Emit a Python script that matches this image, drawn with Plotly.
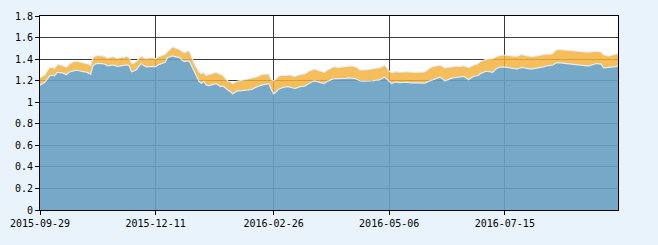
import pandas as pd
import plotly.graph_objects as go

# Trading-day calendar (categories)
holidays = pd.to_datetime([
    "2015-10-01", "2015-10-02", "2015-10-05", "2015-10-06", "2015-10-07",
    "2016-01-01", "2016-02-08", "2016-02-09", "2016-02-10", "2016-02-11", "2016-02-12",
    "2016-04-04", "2016-05-02", "2016-06-09", "2016-06-10", "2016-09-15", "2016-09-16",
])
all_days = pd.bdate_range("2015-09-29", "2016-10-31")
dates = [d.strftime("%Y-%m-%d") for d in all_days if d not in holidays][:241]

tick_labels = ["2015-09-29", "2015-12-11", "2016-02-26", "2016-05-06", "2016-07-15"]

# Cumulative NAV (orange, upper)
accum_nav = [
    1.227, 1.24, 1.255, 1.29, 1.32, 1.325, 1.315, 1.345, 1.35, 1.345,
    1.335, 1.325, 1.352, 1.365, 1.377, 1.38, 1.375, 1.37, 1.365, 1.36,
    1.355, 1.34, 1.415, 1.43, 1.435, 1.432, 1.428, 1.425, 1.41, 1.415,
    1.422, 1.418, 1.406, 1.413, 1.42, 1.418, 1.426, 1.416, 1.36, 1.365,
    1.377, 1.405, 1.429, 1.415, 1.405, 1.41, 1.414, 1.41, 1.405, 1.42,
    1.43, 1.435, 1.445, 1.47, 1.495, 1.513, 1.506, 1.5, 1.489, 1.47,
    1.46, 1.474, 1.475, 1.42, 1.36, 1.322, 1.28, 1.265, 1.275, 1.25,
    1.255, 1.262, 1.27, 1.278, 1.27, 1.262, 1.248, 1.22, 1.197, 1.19,
    1.173, 1.185, 1.197, 1.2, 1.205, 1.209, 1.212, 1.215, 1.22, 1.228,
    1.235, 1.245, 1.257, 1.26, 1.263, 1.262, 1.21, 1.2, 1.215, 1.24,
    1.248, 1.246, 1.25, 1.253, 1.252, 1.243, 1.24, 1.25, 1.258, 1.26,
    1.265, 1.28, 1.293, 1.3, 1.308, 1.3, 1.293, 1.285, 1.278, 1.295,
    1.308, 1.318, 1.329, 1.326, 1.322, 1.326, 1.329, 1.332, 1.335, 1.338,
    1.334, 1.329, 1.315, 1.3, 1.299, 1.299, 1.303, 1.307, 1.31, 1.313,
    1.316, 1.32, 1.33, 1.344, 1.32, 1.288, 1.278, 1.282, 1.284, 1.28,
    1.278, 1.281, 1.284, 1.28, 1.278, 1.279, 1.278, 1.277, 1.278, 1.28,
    1.285, 1.305, 1.32, 1.33, 1.338, 1.34, 1.344, 1.335, 1.318, 1.322,
    1.329, 1.334, 1.338, 1.335, 1.332, 1.335, 1.338, 1.33, 1.323, 1.335,
    1.344, 1.35, 1.359, 1.38, 1.39, 1.396, 1.399, 1.402, 1.405, 1.418,
    1.43, 1.435, 1.438, 1.436, 1.435, 1.432, 1.429, 1.428, 1.426, 1.435,
    1.444, 1.437, 1.43, 1.426, 1.423, 1.426, 1.429, 1.432, 1.436, 1.441,
    1.448, 1.449, 1.446, 1.455, 1.48, 1.489, 1.489, 1.486, 1.483, 1.482,
    1.48, 1.477, 1.474, 1.471, 1.468, 1.467, 1.465, 1.465, 1.465, 1.468,
    1.472, 1.474, 1.47, 1.465, 1.44, 1.433, 1.429, 1.434, 1.438, 1.444,
    1.45,
]

# Unit NAV (blue, lower)
unit_nav = [
    1.158, 1.17, 1.185, 1.215, 1.245, 1.25, 1.245, 1.275, 1.278, 1.275,
    1.265, 1.255, 1.278, 1.285, 1.293, 1.298, 1.292, 1.29, 1.287, 1.28,
    1.272, 1.258, 1.338, 1.355, 1.36, 1.362, 1.358, 1.352, 1.34, 1.34,
    1.346, 1.342, 1.332, 1.335, 1.338, 1.342, 1.347, 1.34, 1.283, 1.29,
    1.302, 1.33, 1.36, 1.34, 1.328, 1.33, 1.33, 1.326, 1.33, 1.345,
    1.353, 1.36, 1.37, 1.415, 1.425, 1.429, 1.423, 1.418, 1.414, 1.39,
    1.377, 1.383, 1.38, 1.335, 1.285, 1.247, 1.195, 1.175, 1.195, 1.16,
    1.155, 1.158, 1.165, 1.172, 1.16, 1.145, 1.15, 1.13, 1.113, 1.1,
    1.077, 1.092, 1.107, 1.105, 1.108, 1.107, 1.11, 1.112, 1.118, 1.133,
    1.145, 1.15, 1.158, 1.163, 1.168, 1.172, 1.12, 1.078, 1.095, 1.12,
    1.13, 1.14, 1.143, 1.145, 1.142, 1.132, 1.128, 1.138, 1.144, 1.146,
    1.15, 1.165, 1.18, 1.19, 1.197, 1.192, 1.188, 1.18, 1.173, 1.19,
    1.203, 1.21, 1.218, 1.218, 1.217, 1.218, 1.218, 1.222, 1.225, 1.227,
    1.222, 1.218, 1.208, 1.197, 1.196, 1.194, 1.195, 1.197, 1.199, 1.202,
    1.205, 1.207, 1.22, 1.233, 1.215, 1.19, 1.173, 1.183, 1.188, 1.182,
    1.179, 1.183, 1.185, 1.18, 1.179, 1.18, 1.179, 1.178, 1.179, 1.18,
    1.178, 1.19, 1.2, 1.21, 1.218, 1.225, 1.233, 1.22, 1.198, 1.205,
    1.218, 1.223, 1.227, 1.23, 1.233, 1.236, 1.239, 1.225, 1.209, 1.226,
    1.239, 1.243, 1.248, 1.268, 1.28, 1.285, 1.287, 1.282, 1.278, 1.3,
    1.318, 1.325, 1.329, 1.326, 1.323, 1.32, 1.317, 1.312, 1.308, 1.315,
    1.323, 1.318, 1.314, 1.311, 1.308, 1.311, 1.314, 1.317, 1.321, 1.328,
    1.335, 1.338, 1.338, 1.345, 1.362, 1.368, 1.365, 1.362, 1.359, 1.356,
    1.353, 1.35, 1.347, 1.346, 1.344, 1.341, 1.338, 1.338, 1.338, 1.345,
    1.355, 1.359, 1.356, 1.353, 1.318, 1.32, 1.323, 1.323, 1.323, 1.33,
    1.338,
]

n = min(len(dates), len(unit_nav), len(accum_nav))
dates = dates[:n]
unit_nav = unit_nav[:n]
accum_nav = accum_nav[:n]

edge = "rgba(225,238,248,0.95)"

fig = go.Figure()
fig.add_trace(go.Scatter(
    x=dates, y=unit_nav, name="单位净值", mode="lines",
    line=dict(color=edge, width=1.2), fill="tozeroy",
    fillcolor="rgba(103,160,193,0.91)", hoverinfo="skip",
))
fig.add_trace(go.Scatter(
    x=dates, y=accum_nav, name="累计净值", mode="lines",
    line=dict(color=edge, width=1.2), fill="tonexty",
    fillcolor="rgba(243,178,59,0.84)", hoverinfo="skip",
))

font_axis = dict(family="DejaVu Sans Mono", size=10, color="#000000")

fig.update_layout(
    width=658, height=245,
    margin=dict(l=38, r=40, t=10, b=35),
    paper_bgcolor="#e8f3fb",
    plot_bgcolor="#ffffff",
    showlegend=False,
    xaxis=dict(
        type="category",
        range=[0, n - 1],
        tickmode="array",
        tickvals=tick_labels,
        ticktext=tick_labels,
        showgrid=True, gridcolor="#3c3c3c", gridwidth=1,
        showline=True, linecolor="#000000", linewidth=1, mirror=True,
        ticks="outside", ticklen=4, tickcolor="#000000",
        tickfont=font_axis, zeroline=False,
    ),
    yaxis=dict(
        range=[0, 1.8], dtick=0.2, tick0=0,
        showgrid=True, gridcolor="#3c3c3c", gridwidth=1,
        showline=True, linecolor="#000000", linewidth=1, mirror=True,
        ticks="outside", ticklen=4, tickcolor="#000000",
        tickfont=font_axis, zeroline=False,
    ),
)

fig.write_html("out.html")
